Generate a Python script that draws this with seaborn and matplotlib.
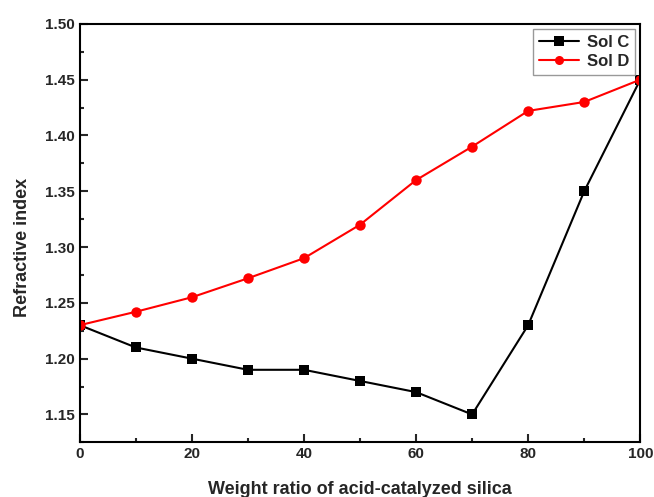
import numpy as np
import pandas as pd
import seaborn as sns
import matplotlib.pyplot as plt
from matplotlib.ticker import MultipleLocator

# Data
ratio = [0, 10, 20, 30, 40, 50, 60, 70, 80, 90, 100]
sol_c = [1.23, 1.21, 1.20, 1.19, 1.19, 1.18, 1.17, 1.15, 1.23, 1.35, 1.45]
sol_d = [1.23, 1.242, 1.255, 1.272, 1.29, 1.32, 1.36, 1.39, 1.422, 1.43, 1.45]

df = pd.DataFrame({'ratio': ratio * 2,
                   'n': sol_c + sol_d,
                   'series': ['Sol C'] * len(ratio) + ['Sol D'] * len(ratio)})

sns.set_style('ticks')
plt.rcParams['font.family'] = ['Liberation Sans', 'DejaVu Sans']
plt.rcParams['font.weight'] = 'bold'

fig, ax = plt.subplots(figsize=(6.54, 4.97), dpi=100)
fig.subplots_adjust(left=0.122, right=0.979, top=0.952, bottom=0.11)

sns.lineplot(data=df, x='ratio', y='n', hue='series', style='series',
             palette={'Sol C': 'black', 'Sol D': 'red'},
             markers={'Sol C': 's', 'Sol D': 'o'}, dashes=False,
             markersize=7.5, markeredgewidth=0, linewidth=1.5, ax=ax)

ax.set_xlim(0, 100)
ax.set_ylim(1.125, 1.50)
ax.xaxis.set_major_locator(MultipleLocator(20))
ax.xaxis.set_minor_locator(MultipleLocator(10))
ax.yaxis.set_major_locator(MultipleLocator(0.05))
ax.yaxis.set_minor_locator(MultipleLocator(0.025))
ax.set_yticks(np.arange(1.15, 1.501, 0.05))
ax.tick_params(which='major', direction='in', length=6, width=1.5, labelsize=11)
ax.tick_params(which='minor', direction='in', length=3, width=1.5)
for s in ax.spines.values():
    s.set_linewidth(1.5)
    s.set_color('black')

ax.set_xlabel('Weight ratio of acid-catalyzed silica', fontsize=13, fontweight='bold', labelpad=14)
ax.set_ylabel('Refractive index', fontsize=13, fontweight='bold', labelpad=10)
ax.yaxis.label.set_y(0.465)

leg = ax.legend(loc='upper right', fontsize=12, frameon=True, fancybox=False,
                handlelength=2.4, handletextpad=0.5, borderpad=0.35,
                labelspacing=0.25, borderaxespad=0.3)
for h in leg.legend_handles:
    h.set_markersize(6.5)
leg.get_frame().set_edgecolor('gray')
leg.get_frame().set_linewidth(1)

plt.savefig('out.png', dpi=100)
